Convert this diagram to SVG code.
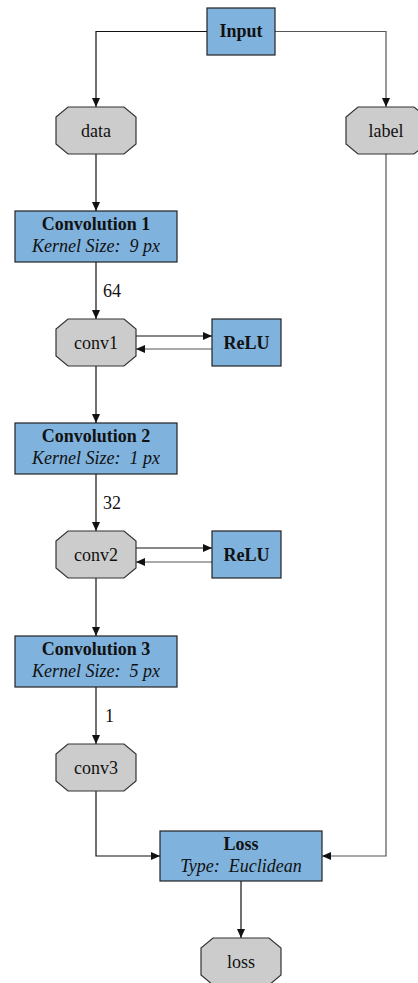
<svg xmlns="http://www.w3.org/2000/svg" width="418" height="983" viewBox="0 0 418 983">
<style>
.box{fill:#7fb2dd;stroke:#222;stroke-width:1.2}
.oct{fill:#cccccc;stroke:#333;stroke-width:1.2}
.t{font-family:"Liberation Serif","Times New Roman",serif;font-size:18px;fill:#111;text-anchor:middle}
.b{font-weight:bold}
.i{font-style:italic}
.e{fill:none;stroke:#111;stroke-width:1.2;marker-end:url(#ah)}
.g{stroke:#555}
.lbl{font-family:"Liberation Serif","Times New Roman",serif;font-size:18px;fill:#111}
</style>
<defs>
<marker id="ah" markerUnits="userSpaceOnUse" markerWidth="10" markerHeight="8" refX="9" refY="4" orient="auto">
<path d="M0,0 L9,4 L0,8 z" fill="#111"/>
</marker>
<polygon id="octshape" points="12,0 68,0 80,10 80,37 68,47 12,47 0,37 0,10"/>
</defs>
<g id="connectors">
<path class="e" d="M207,31.5 H96 V107"/>
<path class="e g" d="M275,31.5 H386 V107"/>
<path class="e" d="M96,154 V211"/>
<path class="e g" d="M386,154 V856 H322"/>
<path class="e" d="M96,262 V319"/>
<text class="lbl" x="103" y="297">64</text>
<path class="e" d="M136,336 H212"/>
<path class="e g" d="M212,349 H136"/>
<path class="e" d="M96,366 V423"/>
<path class="e" d="M96,474 V531"/>
<text class="lbl" x="103" y="509">32</text>
<path class="e" d="M136,548 H212"/>
<path class="e g" d="M212,562 H136"/>
<path class="e" d="M96,578 V636"/>
<path class="e" d="M96,687 V744"/>
<text class="lbl" x="105" y="722">1</text>
<path class="e" d="M96,791 V856 H160"/>
<path class="e" d="M241,881 V938"/>
</g>
<g id="input"><rect class="box" x="207" y="8" width="68" height="47"/><text class="t b" x="241" y="37">Input</text></g>
<g id="data"><use href="#octshape" class="oct" x="56" y="107"/><text class="t" x="96" y="137">data</text></g>
<g id="label"><use href="#octshape" class="oct" x="346" y="107"/><text class="t" x="386" y="137">label</text></g>
<g id="conv1box"><rect class="box" x="15" y="211" width="162" height="51"/><text class="t b" x="96" y="230">Convolution 1</text><text class="t i" x="96" y="252" xml:space="preserve">Kernel Size:  9 px</text></g>
<g id="conv1"><use href="#octshape" class="oct" x="56" y="319"/><text class="t" x="96" y="349">conv1</text></g>
<g id="relu1"><rect class="box" x="212" y="319" width="69" height="47"/><text class="t b" x="246.5" y="349">ReLU</text></g>
<g id="conv2box"><rect class="box" x="15" y="423" width="162" height="51"/><text class="t b" x="96" y="442">Convolution 2</text><text class="t i" x="96" y="464" xml:space="preserve">Kernel Size:  1 px</text></g>
<g id="conv2"><use href="#octshape" class="oct" x="56" y="531"/><text class="t" x="96" y="561">conv2</text></g>
<g id="relu2"><rect class="box" x="212" y="531" width="69" height="47"/><text class="t b" x="246.5" y="561">ReLU</text></g>
<g id="conv3box"><rect class="box" x="15" y="636" width="162" height="51"/><text class="t b" x="96" y="655">Convolution 3</text><text class="t i" x="96" y="677" xml:space="preserve">Kernel Size:  5 px</text></g>
<g id="conv3"><use href="#octshape" class="oct" x="56" y="744"/><text class="t" x="96" y="774">conv3</text></g>
<g id="lossbox"><rect class="box" x="160" y="831" width="162" height="50"/><text class="t b" x="241" y="850">Loss</text><text class="t i" x="241" y="872" xml:space="preserve">Type:  Euclidean</text></g>
<g id="loss"><use href="#octshape" class="oct" x="201" y="938"/><text class="t" x="241" y="968">loss</text></g>
</svg>
